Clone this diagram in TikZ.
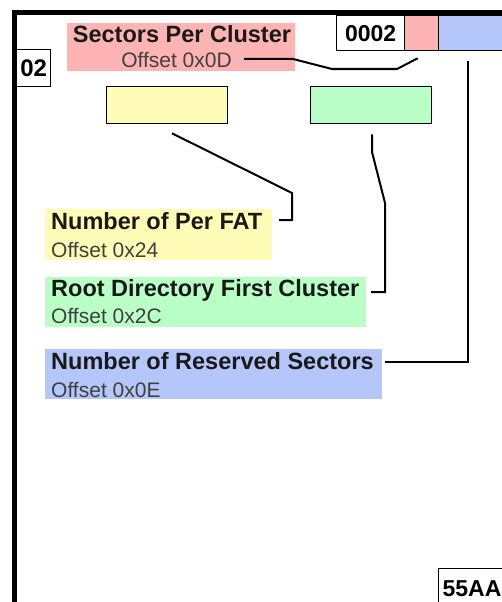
\documentclass[tikz,border=0pt]{standalone}
\usepackage{fontspec}
\setmainfont{Liberation Sans}
\usetikzlibrary{calc}
\definecolor{pinkc}{HTML}{FFB4B4}
\definecolor{bluec}{HTML}{B4C6FA}
\definecolor{yelc}{HTML}{FFFCB8}
\definecolor{grnc}{HTML}{BAFFC6}
\begin{document}
\begin{tikzpicture}[x=1pt,y=-1pt,
  hdr/.style={font=\fontsize{23.5}{23.5}\selectfont\bfseries, text=black!90, inner sep=0pt, anchor=base west},
  off/.style={font=\fontsize{21}{21}\selectfont, text=black!75, inner sep=0pt, anchor=base west},
  cell/.style={draw=black, line width=1.3pt, inner sep=0pt, anchor=north west, font=\fontsize{23}{23}\selectfont\bfseries},
  lblbg/.style={inner sep=0pt, anchor=north west},
  conn/.style={line width=2pt, line join=miter}]
\useasboundingbox (0,0) rectangle (501,602);
\fill[white] (0,0) rectangle (501,602);
% outer frame
\draw[line width=5pt] (14,610) -- (14,12.5) -- (510,12.5);
% cells
\node[cell, minimum width=68pt, minimum height=35pt] (c0002) at (336,15) {0002};
\node[cell, fill=pinkc, minimum width=34pt, minimum height=35pt] (pinkcell) at (404,15) {};
\node[cell, fill=bluec, minimum width=70pt, minimum height=35pt] (bluecell) at (438,15) {};
\node[cell, minimum width=34pt, minimum height=37pt, font=\fontsize{24}{24}\selectfont\bfseries] (c02) at (16,49) {02};
\node[cell, fill=yelc, minimum width=121pt, minimum height=37pt] (yelbox) at (106,86) {};
\node[cell, fill=grnc, minimum width=121pt, minimum height=37pt] (grnbox) at (310,86) {};
\node[cell, minimum height=40pt, text width=60pt, inner xsep=4pt, align=left] (c55) at (438,568) {55AA};
% label backgrounds
\node[lblbg, fill=pinkc, minimum width=228pt, minimum height=48pt] (spcbg) at (67,23) {};
\node[lblbg, fill=yelc, minimum width=227pt, minimum height=51pt] (fatbg) at (45,209) {};
\node[lblbg, fill=grnc, minimum width=321pt, minimum height=50pt] (rdbg) at (45,277) {};
\node[lblbg, fill=bluec, minimum width=337pt, minimum height=50pt] (rsbg) at (45,349) {};
% label texts
\node[hdr, anchor=base] (spchdr) at (182,43) {Sectors Per Cluster};
\node[off, anchor=base] (spcoff) at (176.5,67) {Offset 0x0D};
\node[hdr] (fathdr) at (51,229) {Number of Per FAT};
\node[off] (fatoff) at (51,257) {Offset 0x24};
\node[hdr] (rdhdr) at (51,296) {Root Directory First Cluster};
\node[off] (rdoff) at (51,323) {Offset 0x2C};
\node[hdr] (rshdr) at (51,369) {Number of Reserved Sectors};
\node[off] (rsoff) at (51,397) {Offset 0x0E};
% connectors
\coordinate (spcend) at (244,59);
\coordinate (fatend) at (279,220);
\coordinate (rdend) at (371,292);
\coordinate (rsend) at (385,362);
\draw[conn] (spcend) -- (293,59) -- (332,69) -- (397,69) -- ([shift={(-4,7)}]pinkcell.south);
\draw[conn] ([shift={(66,9)}]yelbox.south west) -- (292,193) -- (292,220) -- (fatend);
\draw[conn] ([shift={(62,10)}]grnbox.south west) -- (372,152) -- (385,203) -- (385,292) -- (rdend);
\draw[conn] ([shift={(30,10)}]bluecell.south west) -- (468,362) -- (rsend);
\end{tikzpicture}
\end{document}
